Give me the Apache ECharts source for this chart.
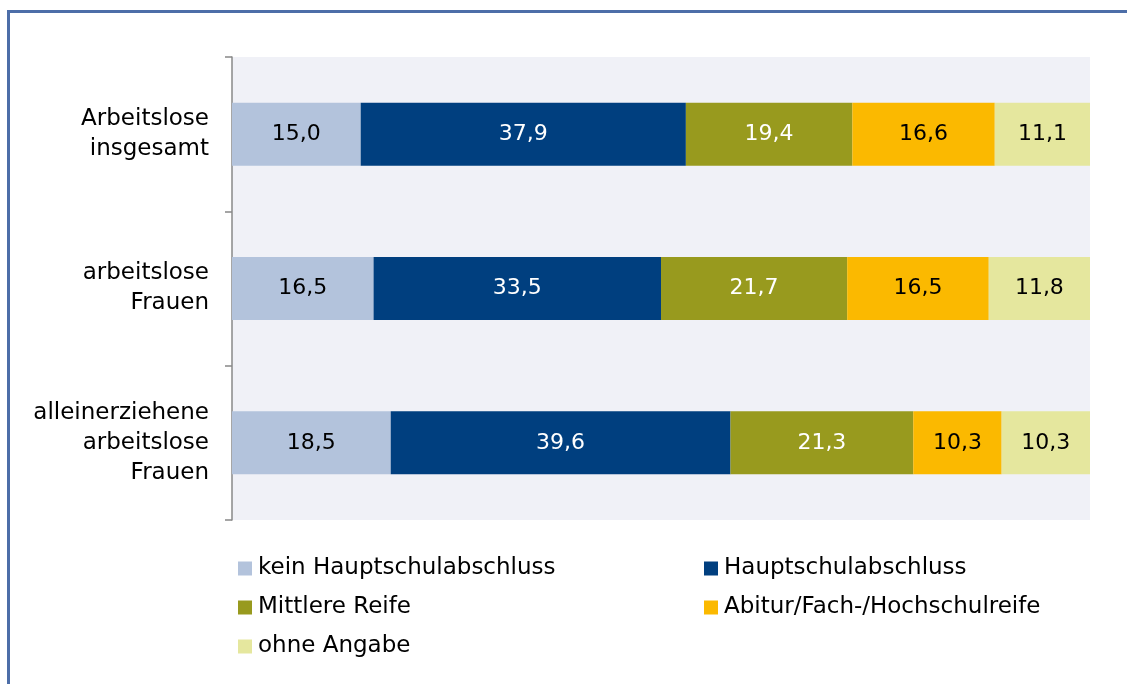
<!DOCTYPE html>
<html><head><meta charset="utf-8">
<script src="https://cdn.jsdelivr.net/npm/echarts@6/dist/echarts.min.js"></script>
<style>html,body{margin:0;padding:0;background:#fff}#c{width:1127px;height:684px}</style>
</head><body><div id="c"></div>
<script>
const categories = ['Arbeitslose\ninsgesamt', 'arbeitslose\nFrauen', 'alleinerziehene\narbeitslose\nFrauen'];
const seriesNames = ['kein Hauptschulabschluss', 'Hauptschulabschluss', 'Mittlere Reife', 'Abitur/Fach-/Hochschulreife', 'ohne Angabe'];
const keinHaupt = [15.0, 16.5, 18.5];
const haupt = [37.9, 33.5, 39.6];
const mittlere = [19.4, 21.7, 21.3];
const abitur = [16.6, 16.5, 10.3];
const ohne = [11.1, 11.8, 10.3];

const values = [keinHaupt, haupt, mittlere, abitur, ohne];
const colors = ['#B3C3DC', '#003F7F', '#989A1E', '#FBB900', '#E5E79E'];
const labelColors = ['#000', '#fff', '#fff', '#000', '#000'];
const font = 'DejaVu Sans, Arial, sans-serif';

const chart = echarts.init(document.getElementById('c'), null, {renderer: 'canvas'});
chart.setOption({
  animation: false,
  backgroundColor: '#fff',
  graphic: [{
    type: 'rect', shape: {x: 8.5, y: 11.5, width: 1300, height: 900},
    style: {fill: 'none', stroke: '#4D6EA8', lineWidth: 3}, z: 100
  }],
  grid: {left: 232, right: 37, top: 57, bottom: 164, show: true, backgroundColor: '#F0F1F7', borderWidth: 0},
  xAxis: {type: 'value', min: 0, max: 100, show: false},
  yAxis: {
    type: 'category', data: categories, inverse: true,
    axisLine: {show: true, lineStyle: {color: '#888', width: 1.5}},
    axisTick: {show: true, length: 7, lineStyle: {color: '#888', width: 1.5}},
    axisLabel: {fontFamily: font, fontSize: 23, color: '#000', lineHeight: 30, align: 'right', margin: 23}
  },
  legend: [{
    orient: 'vertical', left: 233, top: 550, itemWidth: 14, itemHeight: 14, itemGap: 12, icon: 'rect',
    data: [seriesNames[0], seriesNames[2], seriesNames[4]],
    textStyle: {fontFamily: font, fontSize: 23, color: '#000', lineHeight: 27, padding: [0, 0, 0, 1]}
  }, {
    orient: 'vertical', left: 699, top: 550, itemWidth: 14, itemHeight: 14, itemGap: 12, icon: 'rect',
    data: [seriesNames[1], seriesNames[3]],
    textStyle: {fontFamily: font, fontSize: 23, color: '#000', lineHeight: 27, padding: [0, 0, 0, 1]}
  }],
  series: seriesNames.map((n, i) => ({
    name: n, type: 'bar', stack: 'a', barWidth: 63,
    data: values[i],
    itemStyle: {color: colors[i]},
    label: {
      show: true, position: 'inside', fontFamily: font, fontSize: 22, color: labelColors[i],
      formatter: p => p.value.toFixed(1).replace('.', ',')
    }
  }))
});
</script></body></html>
